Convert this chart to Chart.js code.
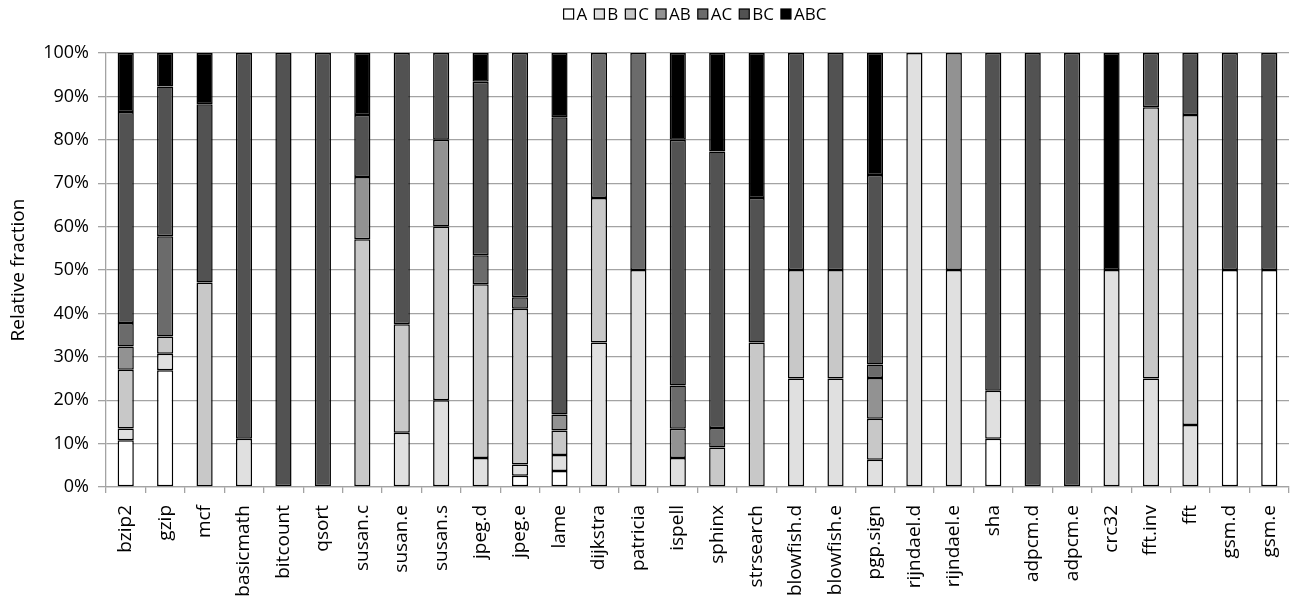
<html>
<head>
	<title>Relative fraction</title>
	<meta charset="utf-8">
	<style type="text/css">
		body { margin: 0; background: #fff; }
		#wrap { width: 1306px; height: 603px; position: relative; }
	</style>
</head>
<body>
	<div id="wrap"><canvas id="myChart"></canvas></div>

	<script src="https://cdn.jsdelivr.net/npm/chart.js@4/dist/chart.umd.min.js"></script>
	<script type="text/javascript">
	// benchmarks
	var categories = ["bzip2", "gzip", "mcf", "basicmath", "bitcount", "qsort", "susan.c", "susan.e", "susan.s", "jpeg.d",
		"jpeg.e", "lame", "dijkstra", "patricia", "ispell", "sphinx", "strsearch", "blowfish.d", "blowfish.e", "pgp.sign",
		"rijndael.d", "rijndael.e", "sha", "adpcm.d", "adpcm.e", "crc32", "fft.inv", "fft", "gsm.d", "gsm.e"];

	// fractions in percent
	var A   = [10.8, 26.9, 0, 0, 0, 0, 0, 0, 0, 0,   2.6, 3.7, 0, 0, 0, 0, 0, 0, 0, 0,   0, 0, 11.1, 0, 0, 0, 0, 0, 50, 50];
	var B   = [2.7, 3.8, 0, 11.1, 0, 0, 0, 12.5, 20, 6.7,   2.6, 3.7, 33.3, 50, 6.7, 0, 0, 25, 25, 6.3,   100, 50, 11.1, 0, 0, 50, 25, 14.3, 0, 0];
	var C   = [13.5, 4.0, 47.1, 0, 0, 0, 57.1, 25, 40, 40,   35.9, 5.6, 33.3, 0, 0, 9.1, 33.3, 25, 25, 9.4,   0, 0, 0, 0, 0, 0, 62.5, 71.4, 0, 0];
	var AB  = [5.4, 0, 0, 0, 0, 0, 14.3, 0, 20, 0,   0, 3.7, 0, 0, 6.7, 0, 0, 0, 0, 9.4,   0, 50, 0, 0, 0, 0, 0, 0, 0, 0];
	var AC  = [5.4, 23.1, 0, 0, 0, 0, 0, 0, 0, 6.7,   2.6, 0, 33.4, 50, 10, 4.5, 0, 0, 0, 3.1,   0, 0, 0, 0, 0, 0, 0, 0, 0, 0];
	var BC  = [48.6, 34.5, 41.1, 88.9, 100, 100, 14.3, 62.5, 20, 40,   56.3, 68.5, 0, 0, 56.6, 63.7, 33.3, 50, 50, 43.7,   0, 0, 77.8, 100, 100, 0, 12.5, 14.3, 50, 50];
	var ABC = [13.6, 7.7, 11.8, 0, 0, 0, 14.3, 0, 0, 6.6,   0, 14.8, 0, 0, 20, 22.7, 33.4, 0, 0, 28.1,   0, 0, 0, 0, 0, 50, 0, 0, 0, 0];

	var seriesNames = ["A", "B", "C", "AB", "AC", "BC", "ABC"];
	var seriesData = [A, B, C, AB, AC, BC, ABC];
	var seriesColors = ["#ffffff", "#e0e0e0", "#c8c8c8", "#929292", "#6b6b6b", "#525252", "#000000"];
	var yTicks = [0, 10, 20, 30, 40, 50, 60, 70, 80, 90, 100];

	var gridGray = "#a3a3a3";
	var font = "'Open Sans', 'DejaVu Sans', sans-serif";

	var datasets = seriesNames.map(function(name, i){
		return {
			label: name,
			// zero parts are left out, otherwise they show as extra black lines
			data: seriesData[i].map(function(v){ return v === 0 ? null : v; }),
			backgroundColor: seriesColors[i],
			borderColor: "#000000",
			borderWidth: 1.5,
			borderSkipped: false,
			categoryPercentage: 1.0,
			barPercentage: 0.41
		};
	});

	// the built-in legend puts half a font size between box and text, the original
	// has the text right next to the box, so the legend row is drawn here instead
	var topLegend = {
		id: "topLegend",
		afterDraw: function(chart){
			var c = chart.ctx;
			var box = 10, gapIn = 3, gapOut = 7, y = 14;
			c.save();
			c.font = "17px " + font;
			c.textBaseline = "middle";
			c.textAlign = "left";
			var widths = chart.data.datasets.map(function(d){ return c.measureText(d.label).width; });
			var total = widths.reduce(function(s, w){ return s + w; }, 0)
				+ widths.length * (box + gapIn) + (widths.length - 1) * gapOut;
			var x = chart.width / 2 + 42 - total / 2;
			chart.data.datasets.forEach(function(d, i){
				c.fillStyle = d.backgroundColor;
				c.fillRect(x, y - box / 2, box, box);
				c.strokeStyle = "#000";
				c.lineWidth = 1.2;
				c.strokeRect(x, y - box / 2, box, box);
				x += box + gapIn;
				c.fillStyle = "#000";
				c.fillText(d.label, x, y + 1);
				x += widths[i] + gapOut;
			});
			c.restore();
		}
	};

	var ctx = document.getElementById("myChart");
	var myChart = new Chart(ctx, {
		type: "bar",
		data: { labels: categories, datasets: datasets },
		plugins: [topLegend],
		options: {
			responsive: true,
			maintainAspectRatio: false,
			animation: false,
			layout: { padding: { top: 53, right: 17, left: 0, bottom: 0 } },
			plugins: {
				legend: { display: false },
				tooltip: { enabled: false }
			},
			scales: {
				x: {
					stacked: true,
					offset: true,
					grid: {
						offset: true,
						drawOnChartArea: false,
						color: gridGray,
						tickLength: 6,
						lineWidth: 1.3
					},
					border: { color: gridGray, width: 1.3 },
					ticks: {
						color: "#000",
						font: { family: font, size: 19 },
						minRotation: 90,
						maxRotation: 90,
						autoSkip: false,
						padding: 12
					},
					afterFit: function(scale){ scale.height = 116; }
				},
				y: {
					stacked: true,
					min: 0,
					max: 100,
					afterBuildTicks: function(scale){
						scale.ticks = yTicks.map(function(v){ return { value: v }; });
					},
					grid: {
						color: gridGray,
						tickLength: 8,
						lineWidth: 1.3
					},
					border: { color: gridGray, width: 1.3 },
					ticks: {
						color: "#000",
						font: { family: font, size: 18 },
						padding: 9,
						callback: function(v){ return v + "%"; }
					},
					title: {
						display: true,
						text: "Relative fraction",
						color: "#000",
						font: { family: font, size: 19 },
						padding: { top: 7, bottom: 0 }
					},
					afterFit: function(scale){ scale.width = 106; }
				}
			}
		}
	});
	</script>
</body>
</html>
